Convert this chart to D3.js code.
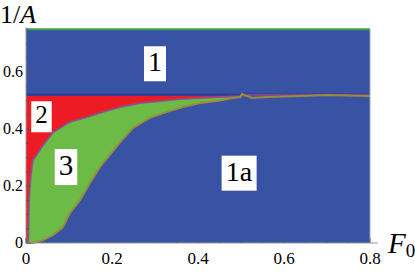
<!DOCTYPE html>
<html><head><script src="https://cdn.jsdelivr.net/npm/d3@7"></script></head>
<body style="margin:0">
<svg id="chart" width="415" height="272" font-family="serif"></svg>
<script>
// eixos
const xTicks = [0, 0.2, 0.4, 0.6, 0.8];
const yTicks = [0, 0.2, 0.4, 0.6];
const xMax = 0.8;
const yMax = 0.75;
const bandLevel = 0.52;

// fronteira superior da região 3 (roxa)
const upperF0 = [0, 0.002, 0.005, 0.007, 0.009, 0.014, 0.016, 0.04, 0.063, 0.102, 0.142, 0.179, 0.219, 0.265, 0.312, 0.358, 0.405, 0.451, 0.498, 0.521];
const upperInvA = [0, 0, 0.01, 0.151, 0.204, 0.274, 0.291, 0.344, 0.389, 0.425, 0.442, 0.46, 0.477, 0.491, 0.498, 0.505, 0.509, 0.512, 0.516, 0.519];

// fronteira inferior da região 3 (oliva)
const lowerF0 = [0, 0.016, 0.04, 0.063, 0.086, 0.102, 0.126, 0.149, 0.172, 0.195, 0.219, 0.249, 0.288, 0.328, 0.365, 0.405, 0.444, 0.481, 0.498, 0.502, 0.526, 0.56, 0.637, 0.7, 0.8];
const lowerInvA = [0, 0, 0.01, 0.028, 0.056, 0.105, 0.151, 0.211, 0.267, 0.309, 0.354, 0.404, 0.439, 0.46, 0.477, 0.491, 0.498, 0.509, 0.512, 0.523, 0.509, 0.512, 0.516, 0.519, 0.516];

// rótulos das regiões
const regionNames = ["1", "2", "3", "1a"];
const regionF0 = [0.3, 0.036, 0.093, 0.495];
const regionInvA = [0.635, 0.449, 0.272, 0.251];
const regionSize = [28, 25, 29, 28];

const svg = d3.select("#chart");

const x = d3.scaleLinear().domain([0, xMax]).range([26, 370]);
const y = d3.scaleLinear().domain([0, yMax]).range([243, 29.25]);

const upper = upperF0.map((f, i) => [f, upperInvA[i]]);
const lower = lowerF0.map((f, i) => [f, lowerInvA[i]]);
const line = d3.line().x(d => x(d[0])).y(d => y(d[1]));

// fundo azul (região 1 / 1a)
svg.append("rect")
  .attr("x", x(0)).attr("y", y(yMax))
  .attr("width", x(xMax) - x(0)).attr("height", y(0) - y(yMax))
  .attr("fill", "#3953a4");

// região 2 (vermelha)
const redPoly = [[0, bandLevel], [0, 0]].concat(upper).concat([[upper[upper.length - 1][0], bandLevel]]);
svg.append("path")
  .attr("d", line(redPoly) + "Z")
  .attr("fill", "#ed1c24");

// região 3 (verde)
const lastUpper = upper[upper.length - 1][0];
const greenPoly = upper.concat(lower.filter(d => d[0] <= lastUpper).reverse());
svg.append("path")
  .attr("d", line(greenPoly) + "Z")
  .attr("fill", "#6cbb46");

// linha azul escura em 1/A = 0.52
svg.append("line")
  .attr("x1", x(0)).attr("x2", x(xMax))
  .attr("y1", y(bandLevel)).attr("y2", y(bandLevel))
  .attr("stroke", "#2e3f94").attr("stroke-width", 2.5);

// linha verde no topo
svg.append("line")
  .attr("x1", x(0)).attr("x2", x(xMax))
  .attr("y1", y(yMax)).attr("y2", y(yMax))
  .attr("stroke", "#3fa14a").attr("stroke-width", 2);

// bordas das regiões
svg.append("path")
  .datum(upper.concat([[0.8, 0.518]]))
  .attr("d", line)
  .attr("fill", "none")
  .attr("stroke", "#8d4b8e").attr("stroke-width", 2).attr("opacity", 0.85);

svg.append("path")
  .datum(lower)
  .attr("d", line)
  .attr("fill", "none")
  .attr("stroke", "#9a8c3c").attr("stroke-width", 2);

// borda direita clara
svg.append("line")
  .attr("x1", x(xMax)).attr("x2", x(xMax))
  .attr("y1", y(yMax)).attr("y2", y(0))
  .attr("stroke", "#9aa6d0").attr("stroke-width", 1);

// eixos
svg.append("line")
  .attr("x1", x(0)).attr("x2", x(xMax) + 8)
  .attr("y1", y(0)).attr("y2", y(0))
  .attr("stroke", "#999");
svg.append("line")
  .attr("x1", x(0)).attr("x2", x(0))
  .attr("y1", y(0)).attr("y2", y(yMax) - 2)
  .attr("stroke", "#999");

// marcas menores/maiores (para dentro)
const isMajor = d => Math.abs(d / 0.2 - Math.round(d / 0.2)) < 1e-6;
svg.append("g").selectAll("line")
  .data(d3.range(0, xMax + 0.001, 0.05))
  .join("line")
  .attr("x1", d => x(d)).attr("x2", d => x(d))
  .attr("y1", y(0))
  .attr("y2", d => y(0) - (isMajor(d) ? 5 : 3))
  .attr("stroke", "#555").attr("stroke-width", 0.8);

svg.append("g").selectAll("line")
  .data(d3.range(0, yMax + 0.001, 0.05))
  .join("line")
  .attr("y1", d => y(d)).attr("y2", d => y(d))
  .attr("x1", x(0))
  .attr("x2", d => x(0) + (isMajor(d) ? 5 : 3))
  .attr("stroke", "#555").attr("stroke-width", 0.8);

const serif = "Liberation Serif, Times New Roman, serif";

// rótulos dos eixos
xTicks.forEach(d => {
  svg.append("text")
    .attr("x", x(d)).attr("y", 264)
    .attr("text-anchor", "middle")
    .attr("font-family", serif)
    .attr("font-size", 17)
    .text(d === 0 ? "0" : d3.format(".1f")(d));
});

yTicks.forEach(d => {
  svg.append("text")
    .attr("x", 23).attr("y", y(d) + 5)
    .attr("text-anchor", "end")
    .attr("font-family", serif)
    .attr("font-size", 16)
    .text(d === 0 ? "0" : d3.format(".1f")(d));
});

// título do eixo Y: 1/A
const yTitle = svg.append("text")
  .attr("x", 0).attr("y", 23)
  .attr("font-family", serif)
  .attr("font-size", 26);
yTitle.append("tspan").text("1/");
yTitle.append("tspan").attr("font-style", "italic").text("A");

// título do eixo X: F0
const xTitle = svg.append("text")
  .attr("x", 388).attr("y", 253)
  .attr("font-family", serif)
  .attr("font-size", 29);
xTitle.append("tspan").attr("font-style", "italic").text("F");
xTitle.append("tspan").attr("dy", 4).attr("font-size", 19).text("0");

// caixas com os nomes das regiões
regionNames.forEach((name, i) => {
  const g = svg.append("g");
  const t = g.append("text")
    .attr("x", x(regionF0[i]))
    .attr("y", y(regionInvA[i]) + regionSize[i] * 0.33)
    .attr("text-anchor", "middle")
    .attr("font-family", serif)
    .attr("font-size", regionSize[i])
    .text(name);
  const b = t.node().getBBox();
  g.insert("rect", "text")
    .attr("x", b.x - 4).attr("y", b.y)
    .attr("width", b.width + 8).attr("height", b.height + 4)
    .attr("fill", "#fff");
});
</script>
</body>
</html>
